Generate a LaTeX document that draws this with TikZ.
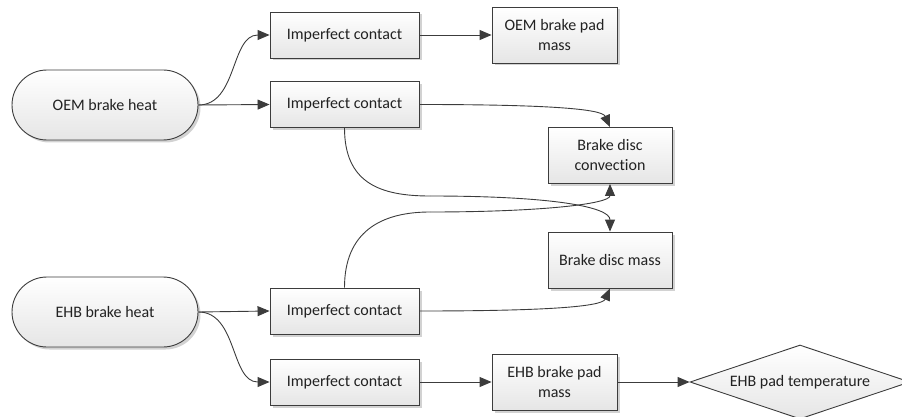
\documentclass[tikz,border=0pt]{standalone}
\usepackage{fontspec}
\setmainfont{Carlito}[Ligatures=NoCommon]
\usetikzlibrary{arrows.meta,shapes.geometric,shadows}
\definecolor{edge}{HTML}{3C3C3C}
\definecolor{ink}{HTML}{222222}
\tikzset{
  boxbase/.style={draw=edge, line width=0.9pt, top color=white, bottom color=black!10,
    text=ink, font=\fontsize{16}{20}\selectfont, align=center, inner sep=0pt},
  shade3d/.style={drop shadow={shadow xshift=2.5pt, shadow yshift=-2.5pt, fill=black!25, opacity=0.7}},
  procbox/.style={boxbase, shade3d, rectangle},
  contact/.style={procbox, minimum width=149pt, minimum height=46pt},
  massbox/.style={procbox, minimum width=125pt, minimum height=56pt},
  discbox/.style={procbox, minimum width=124pt, minimum height=56pt},
  heatsrc/.style={boxbase, shade3d, rectangle, rounded corners=35pt, minimum width=186pt, minimum height=70pt},
  decide/.style={boxbase, diamond, aspect=2.97, minimum width=220pt, minimum height=74pt},
  link/.style={draw=edge, line width=0.9pt, -{Triangle[length=12pt,width=10pt]}},
  plain/.style={draw=edge, line width=0.9pt}
}
\begin{document}
\begin{tikzpicture}[x=1pt, y=-1pt]
\useasboundingbox (0,0) rectangle (902,417);

% heat sources
\node[heatsrc] (oem) at (105,105) {OEM brake heat};
\node[heatsrc] (ehb) at (105,312) {EHB brake heat};

% contact resistances
\node[contact] (ic1) at (344.5,35)  {Imperfect contact};
\node[contact] (ic2) at (344.5,104.5) {Imperfect contact};
\node[contact] (ic3) at (344.5,311) {Imperfect contact};
\node[contact] (ic4) at (344.5,382) {Imperfect contact};

% masses and convection
\node[massbox] (padO) at (554.5,35)  {OEM brake pad\\mass};
\node[discbox] (conv) at (610,155.5) {Brake disc\\convection};
\node[discbox] (disc) at (610,260)   {Brake disc mass};
\node[massbox] (padE) at (554.5,382) {EHB brake pad\\mass};
\node[decide]  (temp) at (800,382)   {EHB pad temperature};

% OEM branch
\draw[link] (oem.east) to[out=0,in=180] (ic1.west);
\draw[link] (oem.east) -- (ic2.west);
\draw[link] (ic1.east) -- (padO.west);
\draw[link] (ic2.east) .. controls +(130,0) and +(-8,-18) .. (conv.north);
\draw[plain] (ic2.south) .. controls +(0,55) and +(-50,0) .. (430,196);
\draw[link] (430,196) .. controls +(120,0) and +(0,-25) .. (disc.north);

% EHB branch
\draw[link] (ehb.east) -- (ic3.west);
\draw[link] (ehb.east) to[out=0,in=180] (ic4.west);
\draw[plain] (ic3.north) .. controls +(0,-55) and +(-50,0) .. (430,212);
\draw[link] (430,212) .. controls +(110,0) and +(0,20) .. (conv.south);
\draw[link] (ic3.east) .. controls +(130,0) and +(-8,18) .. (disc.south);
\draw[link] (ic4.east) -- (padE.west);
\draw[link] (padE.east) -- (temp.west);
\end{tikzpicture}
\end{document}
